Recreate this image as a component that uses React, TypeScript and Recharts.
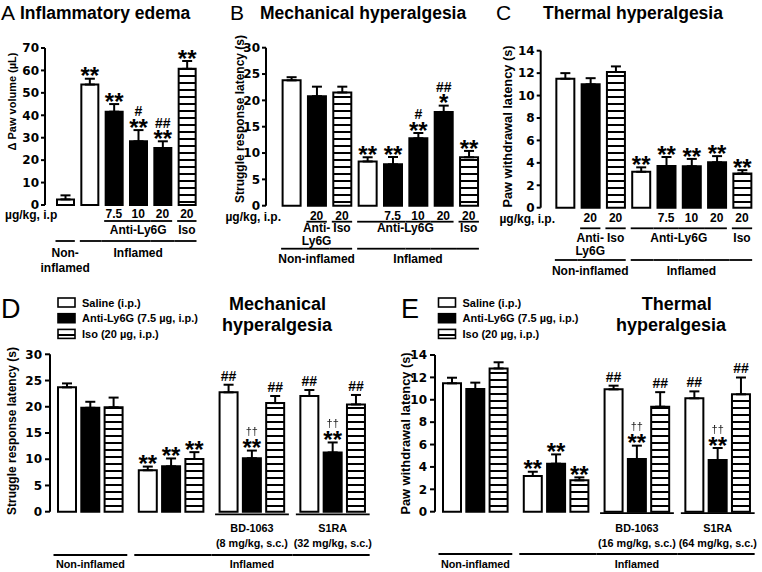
import React from 'react';
import { BarChart, Bar, XAxis, YAxis, ErrorBar, Cell, LabelList } from 'recharts';

const FONT = '"Liberation Sans", Arial, Helvetica, sans-serif';
const TICK_FONT = '"DejaVu Sans", "Liberation Sans", Arial, sans-serif';
const FILLS: Record<string, string> = { saline: '#ffffff', anti: '#000000', iso: 'url(#hstripe)' };

// ---------- Panel A: Inflammatory edema ----------
const catsA = ['A-ni-sal', 'A-in-sal', 'A-in-a7.5', 'A-in-a10', 'A-in-a20', 'A-in-iso20'];
const dosesA = ['', '', '7.5', '10', '20', '20'];
const valuesA = [2.5, 53.7, 41.6, 28.4, 25.4, 60.7];
const errorsA = [1.8, 2.6, 3.4, 5.0, 3.0, 3.5];
const kindsA = ['saline', 'saline', 'anti', 'anti', 'anti', 'iso'];
const marksA = [[], ['**'], ['**'], ['#', '**'], ['##', '**'], ['**']];
const group1A = [null, null, 'Anti-Ly6G', 'Anti-Ly6G', 'Anti-Ly6G', 'Iso'];
const group2A = ['Non-\ninflamed', 'Inflamed', 'Inflamed', 'Inflamed', 'Inflamed', 'Inflamed'];
const yTicksA = [0, 10, 20, 30, 40, 50, 60, 70];

// ---------- Panel B: Mechanical hyperalgesia ----------
const catsB = ['B-ni-sal', 'B-ni-a20', 'B-ni-iso20', 'B-in-sal', 'B-in-a7.5', 'B-in-a10', 'B-in-a20', 'B-in-iso20'];
const dosesB = ['', '20', '20', '', '7.5', '10', '20', '20'];
const valuesB = [23.8, 20.8, 21.5, 8.4, 7.85, 12.8, 17.8, 9.2];
const errorsB = [0.6, 1.8, 1.1, 0.8, 1.4, 1.0, 1.2, 1.2];
const kindsB = ['saline', 'anti', 'iso', 'saline', 'anti', 'anti', 'anti', 'iso'];
const marksB = [[], [], [], ['**'], ['**'], ['#', '**'], ['##', '*'], ['**']];
const group1B = [null, 'Anti-\nLy6G', 'Iso', 'Anti-Ly6G', 'Anti-Ly6G', 'Anti-Ly6G', 'Anti-Ly6G', 'Iso'];
const group2B = ['Non-inflamed', 'Non-inflamed', 'Non-inflamed', 'Inflamed', 'Inflamed', 'Inflamed', 'Inflamed', 'Inflamed'];
const yTicksB = [0, 5, 10, 15, 20, 25, 30];

// ---------- Panel C: Thermal hyperalgesia ----------
const catsC = ['C-ni-sal', 'C-ni-a20', 'C-ni-iso20', 'C-in-sal', 'C-in-a7.5', 'C-in-a10', 'C-in-a20', 'C-in-iso20'];
const dosesC = ['', '20', '20', '', '7.5', '10', '20', '20'];
const valuesC = [11.5, 11.0, 12.1, 3.2, 3.72, 3.7, 4.05, 3.05];
const errorsC = [0.5, 0.55, 0.5, 0.4, 0.8, 0.65, 0.55, 0.3];
const kindsC = ['saline', 'anti', 'iso', 'saline', 'anti', 'anti', 'anti', 'iso'];
const marksC = [[], [], [], ['**'], ['**'], ['**'], ['**'], ['**']];
const group1C = [null, 'Anti-\nLy6G', 'Iso', 'Anti-Ly6G', 'Anti-Ly6G', 'Anti-Ly6G', 'Anti-Ly6G', 'Iso'];
const group2C = ['Non-inflamed', 'Non-inflamed', 'Non-inflamed', 'Inflamed', 'Inflamed', 'Inflamed', 'Inflamed', 'Inflamed'];
const yTicksC = [0, 2, 4, 6, 8, 10, 12, 14];

// ---------- Panels D / E: series ----------
const seriesNames = ['Saline (i.p.)', 'Anti-Ly6G (7.5 µg, i.p.)', 'Iso (20 µg, i.p.)'];
const seriesKinds = ['saline', 'anti', 'iso'];

// Panel D: Mechanical hyperalgesia
const groupsD = ['D-non', 'D-inf', 'D-bd', 'D-s1ra'];
const salineD = [23.7, 7.9, 22.75, 22.05];
const salineErrD = [0.75, 0.7, 1.45, 1.15];
const antiD = [19.8, 8.65, 10.2, 11.3];
const antiErrD = [1.15, 1.5, 1.45, 1.9];
const isoD = [19.9, 10.05, 20.7, 20.45];
const isoErrD = [1.85, 1.3, 1.35, 1.8];
const salineMarksD = [[], ['**'], ['##'], ['##']];
const antiMarksD = [[], ['**'], ['††', '**'], ['††', '**']];
const isoMarksD = [[], ['**'], ['##'], ['##']];
const group1D = [null, null, 'BD-1063\n(8 mg/kg, s.c.)', 'S1RA\n(32 mg/kg, s.c.)'];
const group2D = ['Non-inflamed', 'Inflamed', 'Inflamed', 'Inflamed'];
const yTicksD = [0, 5, 10, 15, 20, 25, 30];

// Panel E: Thermal hyperalgesia
const groupsE = ['E-non', 'E-inf', 'E-bd', 'E-s1ra'];
const salineE = [11.47, 3.19, 10.93, 10.13];
const salineErrE = [0.5, 0.38, 0.33, 0.62];
const antiE = [10.96, 4.29, 4.7, 4.62];
const antiErrE = [0.57, 0.83, 1.2, 1.07];
const isoE = [12.8, 2.8, 9.38, 10.49];
const isoErrE = [0.55, 0.27, 1.3, 1.5];
const salineMarksE = [[], ['**'], ['##'], ['##']];
const antiMarksE = [[], ['**'], ['††', '**'], ['††', '**']];
const isoMarksE = [[], ['**'], ['##'], ['##']];
const group1E = [null, null, 'BD-1063\n(16 mg/kg, s.c.)', 'S1RA\n(64 mg/kg, s.c.)'];
const group2E = ['Non-inflamed', 'Inflamed', 'Inflamed', 'Inflamed'];
const yTicksE = [0, 2, 4, 6, 8, 10, 12, 14];

// ---------- helpers ----------
function symbolMetrics(s: string) {
  if (s.startsWith('*')) return { size: 24, weight: 700, bottom: 0.4, top: 0.72, gap: 2, fill: '#000', family: FONT, filter: undefined as string | undefined };
  if (s.startsWith('#')) return { size: 14, weight: 700, bottom: 0, top: 0.72, gap: 3, fill: '#000', family: FONT, filter: undefined as string | undefined };
  return { size: 11, weight: 400, bottom: -0.16, top: 0.74, gap: 2, fill: '#222', family: FONT, filter: 'url(#desat)' };
}

function renderMarks(values: number[], errors: number[], marks: string[][]) {
  return (p: any) => {
    const i: number = p.index;
    const list = marks[i];
    if (!list || list.length === 0) return null;
    const vb = p.viewBox || {};
    const x = Number(p.x ?? vb.x);
    const y = Number(p.y ?? vb.y);
    const w = Number(p.width ?? vb.width);
    const h = Number(p.height ?? vb.height);
    const cx = x + w / 2;
    const ppu = values[i] ? h / values[i] : 0;
    let cursor = y - errors[i] * ppu - 4;
    const out: any[] = [];
    for (let k = list.length - 1; k >= 0; k--) {
      const s = list[k];
      const m = symbolMetrics(s);
      const base = cursor + m.bottom * m.size;
      out.push(
        <text key={k} x={cx} y={base} textAnchor="middle" fontSize={m.size} fontWeight={m.weight} fill={m.fill} fontFamily={m.family} filter={m.filter}>
          {s}
        </text>
      );
      cursor = base - m.top * m.size - m.gap;
    }
    return <g>{out}</g>;
  };
}

type Rows = { dose?: number; l1: number; t1: number; t1gap: number; l2: number; t2: number; t2gap: number; inset: number };

function makeTick(cats: string[], step: number, doses: string[] | null, g1: (string | null)[], g2: (string | null)[], rows: Rows, font: number) {
  const n = cats.length;
  return (props: any) => {
    const x = Number(props.x);
    const y = Number(props.y);
    const val = props.payload ? props.payload.value : undefined;
    let i = cats.indexOf(val);
    if (i < 0) i = props.index ?? 0;
    const els: any[] = [];
    if (doses && doses[i] && rows.dose !== undefined) {
      els.push(
        <text key="dose" x={x} y={y + rows.dose} textAnchor="middle" dominantBaseline="central" fontSize={12} fontWeight={700} fill="#000">
          {doses[i]}
        </text>
      );
    }
    const levels = [
      { vals: g1, ly: rows.l1, ty: rows.t1, gap: rows.t1gap },
      { vals: g2, ly: rows.l2, ty: rows.t2, gap: rows.t2gap },
    ];
    levels.forEach((lv, li) => {
      const v = lv.vals[i];
      if (v == null) return;
      const first = i === 0 || lv.vals[i - 1] !== v;
      const last = i === n - 1 || lv.vals[i + 1] !== v;
      const x1 = x - step / 2 + (first ? rows.inset : 0);
      const x2 = x + step / 2 - (last ? rows.inset : 0);
      els.push(<line key={`l${li}`} x1={x1} x2={x2} y1={y + lv.ly} y2={y + lv.ly} stroke="#000" strokeWidth={1.8} />);
      if (first) {
        let len = 1;
        while (i + len < n && lv.vals[i + len] === v) len++;
        const cx = x + ((len - 1) * step) / 2;
        v.split('\n').forEach((s, k) => {
          els.push(
            <text key={`t${li}-${k}`} x={cx} y={y + lv.ty + k * lv.gap} textAnchor="middle" dominantBaseline="central" fontSize={font} fontWeight={700} fill="#000">
              {s}
            </text>
          );
        });
      }
    });
    return <g>{els}</g>;
  };
}

const axisLine = { stroke: '#000', strokeWidth: 2 };
const yTickStyle = { fill: '#000', fontSize: 12, fontWeight: 700, fontFamily: TICK_FONT };

type SingleProps = {
  left: number; top: number; width: number; height: number;
  yW: number; mTop: number; mRight: number; padL: number; xH: number;
  cats: string[]; doses: string[]; values: number[]; errors: number[]; kinds: string[]; marks: string[][];
  g1: (string | null)[]; g2: (string | null)[]; yMax: number; yTicks: number[]; barSize: number; rows: Rows; font: number;
};

function SinglePanel(p: SingleProps) {
  const data = p.cats.map((id, i) => ({ id, value: p.values[i], err: [0, p.errors[i]] }));
  const step = (p.width - p.mRight - p.yW - p.padL) / p.cats.length;
  const tick = makeTick(p.cats, step, p.doses, p.g1, p.g2, p.rows, p.font);
  return (
    <div style={{ position: 'absolute', left: p.left, top: p.top }}>
      <BarChart width={p.width} height={p.height} data={data} margin={{ top: p.mTop, right: p.mRight, bottom: 0, left: 0 }} barSize={p.barSize}>
        <YAxis width={p.yW} domain={[0, p.yMax]} ticks={p.yTicks} interval={0} axisLine={axisLine} tickLine={axisLine} tickSize={4} tickMargin={2} tick={yTickStyle} />
        <XAxis dataKey="id" height={p.xH} axisLine={false} tickLine={false} tickSize={0} tickMargin={0} interval={0} padding={{ left: p.padL, right: 0 }} tick={tick} />
        <Bar dataKey="value" stroke="#000" strokeWidth={2} isAnimationActive={false}>
          {data.map((d, i) => (
            <Cell key={d.id} fill={FILLS[p.kinds[i]]} />
          ))}
          <ErrorBar dataKey="err" width={5} stroke="#000" strokeWidth={2} direction="y" isAnimationActive={false} />
          <LabelList dataKey="value" content={renderMarks(p.values, p.errors, p.marks)} />
        </Bar>
      </BarChart>
    </div>
  );
}

type GroupedProps = {
  left: number; top: number; width: number; height: number;
  yW: number; mTop: number; mRight: number; padL: number; xH: number;
  groups: string[]; series: { values: number[]; errors: number[]; marks: string[][] }[];
  g1: (string | null)[]; g2: (string | null)[]; yMax: number; yTicks: number[]; rows: Rows; font: number;
};

function GroupedPanel(p: GroupedProps) {
  const data = p.groups.map((id, i) => {
    const row: any = { id };
    p.series.forEach((s, k) => {
      row[`v${k}`] = s.values[i];
      row[`e${k}`] = [0, s.errors[i]];
    });
    return row;
  });
  const step = (p.width - p.mRight - p.yW - p.padL) / p.groups.length;
  const tick = makeTick(p.groups, step, null, p.g1, p.g2, p.rows, p.font);
  return (
    <div style={{ position: 'absolute', left: p.left, top: p.top }}>
      <BarChart width={p.width} height={p.height} data={data} margin={{ top: p.mTop, right: p.mRight, bottom: 0, left: 0 }} barSize={18} barGap={5.3}>
        <YAxis width={p.yW} domain={[0, p.yMax]} ticks={p.yTicks} interval={0} axisLine={axisLine} tickLine={axisLine} tickSize={5} tickMargin={3} tick={yTickStyle} />
        <XAxis dataKey="id" height={p.xH} axisLine={false} tickLine={false} tickSize={0} tickMargin={0} interval={0} padding={{ left: p.padL, right: 0 }} tick={tick} />
        {p.series.map((s, k) => (
          <Bar key={k} dataKey={`v${k}`} name={seriesNames[k]} fill={FILLS[seriesKinds[k]]} stroke="#000" strokeWidth={2} isAnimationActive={false}>
            <ErrorBar dataKey={`e${k}`} width={5} stroke="#000" strokeWidth={2} direction="y" isAnimationActive={false} />
            <LabelList dataKey={`v${k}`} content={renderMarks(s.values, s.errors, s.marks)} />
          </Bar>
        ))}
      </BarChart>
    </div>
  );
}

function Legend2({ x, y }: { x: number; y: number }) {
  return (
    <g>
      {seriesNames.map((name, k) => (
        <g key={name}>
          <rect x={x} y={y + k * 15.7 - 4.5} width={17} height={9} fill={FILLS[seriesKinds[k]]} stroke="#000" strokeWidth={1.6} />
          <text x={x + 24} y={y + k * 15.7} dominantBaseline="central" fontSize={11} fontWeight={700} fill="#000">
            {name}
          </text>
        </g>
      ))}
    </g>
  );
}

function YLabel({ x, y, text, size }: { x: number; y: number; text: string; size: number }) {
  return (
    <text x={x} y={y} transform={`rotate(-90 ${x} ${y})`} textAnchor="middle" dominantBaseline="central" fontSize={size} fontWeight={700} fill="#000">
      {text}
    </text>
  );
}

export default function App() {
  const rowsA: Rows = { dose: 8.5, l1: 16, t1: 25, t1gap: 13, l2: 36, t2: 48, t2gap: 15, inset: 2.5 };
  const rowsB: Rows = { dose: 10.5, l1: 16, t1: 22, t1gap: 13.3, l2: 43, t2: 53, t2gap: 13, inset: 2.5 };
  const rowsC: Rows = { dose: 10.6, l1: 20.6, t1: 30.6, t1gap: 12.4, l2: 52.3, t2: 63, t2gap: 13, inset: 2.5 };
  const rowsD: Rows = { l1: 2.6, t1: 16.3, t1gap: 15, l2: 43.3, t2: 52.3, t2gap: 13, inset: 3.5 };
  const rowsE: Rows = { l1: 1.5, t1: 16.3, t1gap: 15, l2: 42.3, t2: 52.3, t2gap: 13, inset: 3.5 };
  return (
    <div style={{ position: 'absolute', left: 0, top: 0, width: 762, height: 572, background: '#fff', fontFamily: FONT, overflow: 'hidden' }}>
      <svg width={0} height={0} style={{ position: 'absolute' }}>
        <defs>
          <pattern id="hstripe" patternUnits="userSpaceOnUse" width={6} height={7}>
            <rect width={6} height={7} fill="#fff" />
            <rect y={5} width={6} height={2} fill="#000" />
          </pattern>
          <filter id="desat" x="-20%" y="-20%" width="140%" height="140%">
            <feColorMatrix type="saturate" values="0" />
          </filter>
        </defs>
      </svg>

      <SinglePanel left={0} top={0} width={205} height={290} yW={45} mTop={48} mRight={6} padL={8} xH={85}
        cats={catsA} doses={dosesA} values={valuesA} errors={errorsA} kinds={kindsA} marks={marksA}
        g1={group1A} g2={group2A} yMax={70} yTicks={yTicksA} barSize={17} rows={rowsA} font={12} />
      <SinglePanel left={236} top={0} width={250} height={290} yW={30} mTop={47.7} mRight={4.6} padL={12.6} xH={84.3}
        cats={catsB} doses={dosesB} values={valuesB} errors={errorsB} kinds={kindsB} marks={marksB}
        g1={group1B} g2={group2B} yMax={30} yTicks={yTicksB} barSize={18} rows={rowsB} font={12} />
      <SinglePanel left={512} top={0} width={250} height={290} yW={28.7} mTop={50.7} mRight={7.35} padL={11.65} xH={82.3}
        cats={catsC} doses={dosesC} values={valuesC} errors={errorsC} kinds={kindsC} marks={marksC}
        g1={group1C} g2={group2C} yMax={14} yTicks={yTicksC} barSize={18} rows={rowsC} font={12} />

      <GroupedPanel left={0} top={290} width={380} height={282} yW={50} mTop={64.3} mRight={6.85} padL={0} xH={60.3}
        groups={groupsD}
        series={[
          { values: salineD, errors: salineErrD, marks: salineMarksD },
          { values: antiD, errors: antiErrD, marks: antiMarksD },
          { values: isoD, errors: isoErrD, marks: isoMarksD },
        ]}
        g1={group1D} g2={group2D} yMax={30} yTicks={yTicksD} rows={rowsD} font={10.8} />
      <GroupedPanel left={390} top={290} width={372} height={282} yW={45} mTop={65} mRight={3.85} padL={0} xH={60.3}
        groups={groupsE}
        series={[
          { values: salineE, errors: salineErrE, marks: salineMarksE },
          { values: antiE, errors: antiErrE, marks: antiMarksE },
          { values: isoE, errors: isoErrE, marks: isoMarksE },
        ]}
        g1={group1E} g2={group2E} yMax={14} yTicks={yTicksE} rows={rowsE} font={10.8} />

      <svg width={762} height={572} style={{ position: 'absolute', left: 0, top: 0, pointerEvents: 'none' }} fontFamily={FONT}>
        <text x={1} y={20} fontSize={21} fill="#000">A</text>
        <text x={230} y={20} fontSize={21} fill="#000">B</text>
        <text x={496} y={20} fontSize={21} fill="#000">C</text>
        <text x={1} y={318} fontSize={27} fill="#000">D</text>
        <text x={401} y={318} fontSize={27} fill="#000">E</text>

        <text x={20} y={19} fontSize={17.5} fontWeight={700} fill="#000">Inflammatory edema</text>
        <text x={260} y={19} fontSize={17.5} fontWeight={700} fill="#000">Mechanical hyperalgesia</text>
        <text x={543} y={19} fontSize={17.5} fontWeight={700} fill="#000">Thermal hyperalgesia</text>
        <text x={277.5} y={310} textAnchor="middle" fontSize={18} fontWeight={700} fill="#000">Mechanical</text>
        <text x={277} y={331} textAnchor="middle" fontSize={18} fontWeight={700} fill="#000">hyperalgesia</text>
        <text x={676.7} y={310} textAnchor="middle" fontSize={18} fontWeight={700} fill="#000">Thermal</text>
        <text x={671} y={331} textAnchor="middle" fontSize={18} fontWeight={700} fill="#000">hyperalgesia</text>

        <YLabel x={12} y={101.5} text="Δ Paw volume (µL)" size={11} />
        <YLabel x={240} y={119} text="Struggle response latency (s)" size={12} />
        <YLabel x={507} y={126.5} text="Paw withdrawal latency (s)" size={12.8} />
        <YLabel x={12} y={431} text="Struggle response latency (s)" size={12} />
        <YLabel x={405} y={433.5} text="Paw withdrawal latency (s)" size={12.8} />

        <text x={5} y={214.5} dominantBaseline="central" fontSize={12} fontWeight={700} fill="#000">µg/kg, i.p</text>
        <text x={281} y={216.5} textAnchor="end" dominantBaseline="central" fontSize={12} fontWeight={700} fill="#000">µg/kg, i.p.</text>
        <text x={555} y={218.5} textAnchor="end" dominantBaseline="central" fontSize={12} fontWeight={700} fill="#000">µg/kg, i.p.</text>

        <Legend2 x={58} y={302.5} />
        <Legend2 x={438.5} y={302.5} />
      </svg>
    </div>
  );
}
